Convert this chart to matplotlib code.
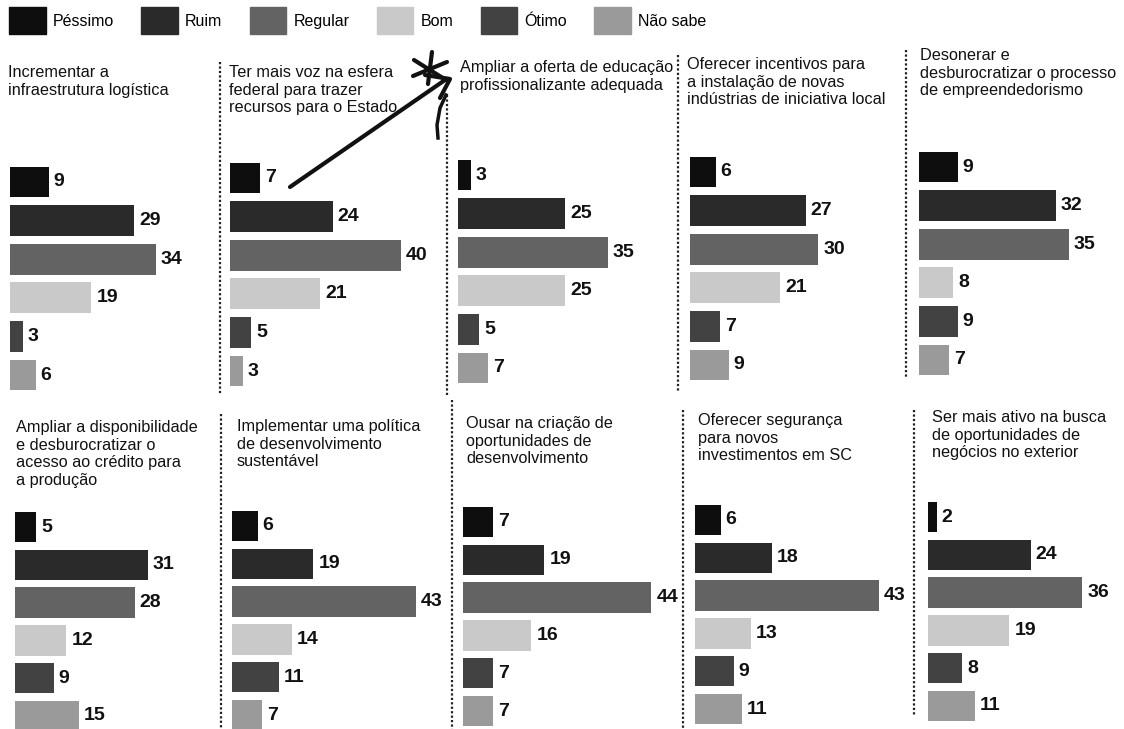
import matplotlib
matplotlib.use('Agg')
from matplotlib import pyplot as plt
from matplotlib.lines import Line2D

plt.rcParams['font.family'] = ['Liberation Sans', 'DejaVu Sans']

categories = ['Péssimo', 'Ruim', 'Regular', 'Bom', 'Ótimo', 'Não sabe']
colors = ['#0e0e0e', '#2a2a2a', '#636363', '#c9c9c9', '#424242', '#9a9a9a']

titles = [
    'Incrementar a\ninfraestrutura logística',
    'Ter mais voz na esfera\nfederal para trazer\nrecursos para o Estado',
    'Ampliar a oferta de educação\nprofissionalizante adequada',
    'Oferecer incentivos para\na instalação de novas\nindústrias de iniciativa local',
    'Desonerar e\ndesburocratizar o processo\nde empreendedorismo',
    'Ampliar a disponibilidade\ne desburocratizar o\nacesso ao crédito para\na produção',
    'Implementar uma política\nde desenvolvimento\nsustentável',
    'Ousar na criação de\noportunidades de\ndesenvolvimento',
    'Oferecer segurança\npara novos\ninvestimentos em SC',
    'Ser mais ativo na busca\nde oportunidades de\nnegócios no exterior',
]

values = [
    [9, 29, 34, 19, 3, 6],
    [7, 24, 40, 21, 5, 3],
    [3, 25, 35, 25, 5, 7],
    [6, 27, 30, 21, 7, 9],
    [9, 32, 35, 8, 9, 7],
    [5, 31, 28, 12, 9, 15],
    [6, 19, 43, 14, 11, 7],
    [7, 19, 44, 16, 7, 7],
    [6, 18, 43, 13, 9, 11],
    [2, 24, 36, 19, 8, 11],
]

# layout in pixels (scan is slightly skewed, so each panel has its own offsets)
W, H = 1124, 729
PX = 4.28  # pixels per percentage point
bar_left = [10, 230, 458, 690, 919, 15, 232, 463, 695, 928]
first_center = [182, 178, 175, 172, 167, 527, 526, 522, 520, 517]
step = [38.6] * 5 + [37.8] * 5
title_pos = [(8, 65), (229, 65), (460, 60), (687, 57), (920, 48),
             (16, 420), (237, 419), (466, 416), (698, 413), (932, 410)]
dividers = [(220, 62, 395), (447, 95, 395), (678, 55, 392), (906, 50, 378),
            (221, 414, 729), (452, 400, 729), (683, 410, 729), (914, 410, 715)]

fig = plt.figure(figsize=(W / 100, H / 100), dpi=100)
fig.patch.set_facecolor('white')

for k in range(10):
    axw = 205
    top = first_center[k] - step[k] / 2
    h = 6 * step[k]
    ax = fig.add_axes([bar_left[k] / W, 1 - (top + h) / H, axw / W, h / H])
    ax.set_xlim(0, axw / PX)
    ax.set_ylim(5.5, -0.5)
    ypos = list(range(len(categories)))
    ax.barh(ypos, values[k], height=0.8, color=colors)
    for i, v in zip(ypos, values[k]):
        ax.text(v + 5 / PX, i, str(v), va='center', ha='left',
                fontsize=14, fontweight='bold', color='#111111')
    ax.axis('off')
    tx, ty = title_pos[k]
    fig.text(tx / W, 1 - ty / H, titles[k], va='top', ha='left',
             fontsize=11.7, color='#111111', linespacing=1.22)

for x, y0, y1 in dividers:
    fig.add_artist(Line2D([x / W, x / W], [1 - y0 / H, 1 - y1 / H],
                          color='#222222', lw=1.6, linestyle=(0, (1, 1))))

handles = [plt.Rectangle((0, 0), 1, 1, color=c) for c in colors]
fig.legend(handles, categories, loc='upper left', bbox_to_anchor=(0.008, 0.99),
           ncol=6, frameon=False, fontsize=11.5, handlelength=2.3,
           handleheight=2.2, handletextpad=0.45, columnspacing=1.7,
           borderaxespad=0.0, borderpad=0.0)

# hand-drawn arrow and scribble on the scan
ink = dict(color='#111111', lw=3, solid_capstyle='round')
fig.add_artist(Line2D([290 / W, 445 / W], [1 - 187 / H, 1 - 80 / H], **ink))
fig.add_artist(Line2D([425 / W, 450 / W, 440 / W],
                      [1 - 75 / H, 1 - 79 / H, 1 - 98 / H], **ink))
fig.add_artist(Line2D([414 / W, 446 / W], [1 - 60 / H, 1 - 80 / H], **ink))
fig.add_artist(Line2D([413 / W, 447 / W], [1 - 76 / H, 1 - 62 / H], **ink))
fig.add_artist(Line2D([432 / W, 428 / W], [1 - 52 / H, 1 - 84 / H], **ink))
fig.add_artist(Line2D([446 / W, 440 / W, 437 / W, 438 / W],
                      [1 - 95 / H, 1 - 108 / H, 1 - 125 / H, 1 - 138 / H],
                      color='#111111', lw=2.5))

plt.savefig('out.png', dpi=100)
